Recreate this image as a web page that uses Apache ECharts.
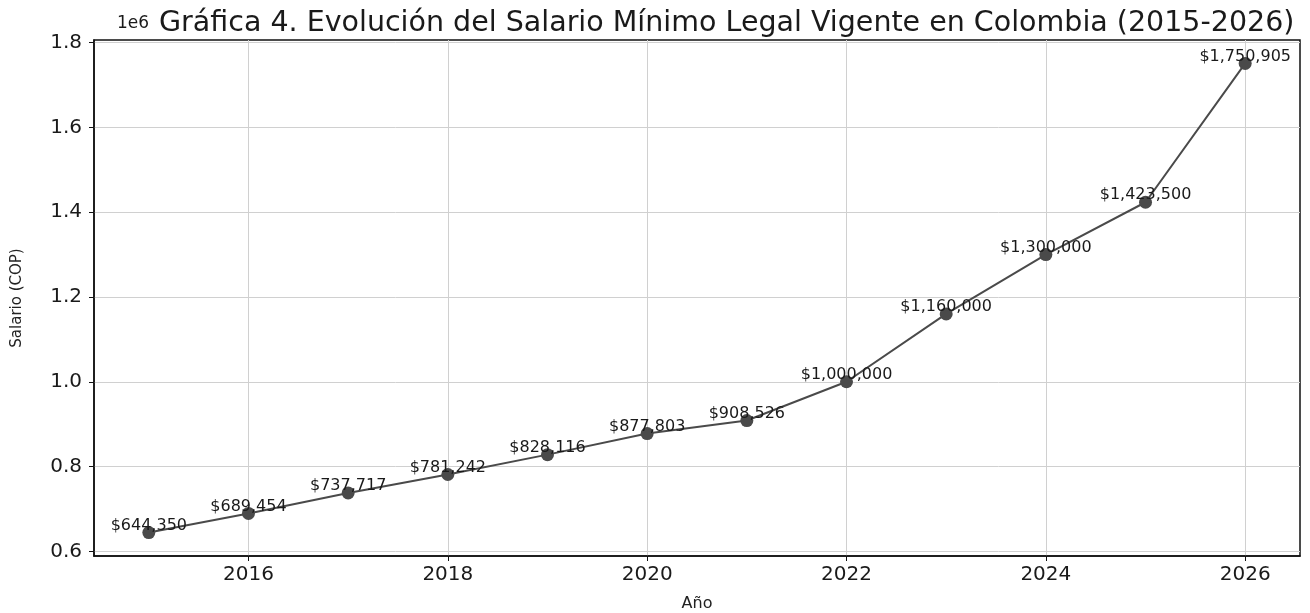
<!DOCTYPE html>
<html>
<head>
<meta charset="utf-8">
<title>Salario Mínimo Colombia</title>
<script src="https://cdn.jsdelivr.net/npm/echarts@6/dist/echarts.min.js"></script>
<style>
  html, body { margin: 0; padding: 0; background: #fff; }
  #chart { width: 1310px; height: 613px; }
</style>
</head>
<body>
<div id="chart"></div>
<script>
// datos
const years = [2015, 2016, 2017, 2018, 2019, 2020, 2021, 2022, 2023, 2024, 2025, 2026];
const salaries = [644350, 689454, 737717, 781242, 828116, 877803, 908526, 1000000, 1160000, 1300000, 1423500, 1750905];
const xTicks = [2016, 2018, 2020, 2022, 2024, 2026];
const yTicks = [600000, 800000, 1000000, 1200000, 1400000, 1600000, 1800000];

const FONT = '"DejaVu Sans", sans-serif';

// margen tipo matplotlib (5%)
const xPad = (years[years.length - 1] - years[0]) * 0.05;
const yMinData = Math.min(...salaries);
const yMaxData = Math.max(...salaries);
const yPad = (yMaxData - yMinData) * 0.05;

const chart = echarts.init(document.getElementById('chart'));

const fmtMoney = (v) => '$' + Number(v).toLocaleString('en-US');

const option = {
  backgroundColor: '#fff',
  animation: false,
  textStyle: { fontFamily: FONT },
  title: {
    text: 'Gráfica 4. Evolución del Salario Mínimo Legal Vigente en Colombia (2015-2026)',
    left: 154,
    top: 4,
    textStyle: { fontFamily: FONT, fontSize: 28.5, fontWeight: 'normal', color: '#1a1a1a' }
  },
  graphic: [
    {
      type: 'text',
      left: 117,
      top: 15,
      style: { text: '1e6', font: '17px ' + FONT, fill: '#1a1a1a' }
    }
  ],
  grid: {
    left: 94,
    right: 10,
    top: 40,
    bottom: 57,
    show: true,
    borderColor: '#111',
    borderWidth: 1.5,
    containLabel: false,
    outerBoundsMode: 'none'
  },
  xAxis: {
    type: 'value',
    min: years[0] - xPad,
    max: years[years.length - 1] + xPad,
    name: 'Año',
    nameLocation: 'middle',
    nameGap: 40,
    nameTextStyle: { fontFamily: FONT, fontSize: 16, color: '#222' },
    axisLine: { show: true, lineStyle: { color: '#111', width: 1.5 } },
    axisTick: { show: true, length: 5, lineStyle: { color: '#111' }, customValues: xTicks },
    axisLabel: {
      customValues: xTicks,
      fontFamily: FONT,
      fontSize: 20,
      color: '#1a1a1a',
      margin: 9,
      formatter: (v) => String(v)
    },
    splitLine: { show: true, lineStyle: { color: '#d0d0d0', width: 1 } }
  },
  yAxis: {
    type: 'value',
    min: yMinData - yPad,
    max: yMaxData + yPad,
    name: 'Salario (COP)',
    nameLocation: 'middle',
    nameGap: 69,
    nameRotate: 90,
    nameTextStyle: { fontFamily: FONT, fontSize: 15, color: '#222' },
    axisLine: { show: true, lineStyle: { color: '#111', width: 1.5 } },
    axisTick: { show: true, length: 5, lineStyle: { color: '#111' }, customValues: yTicks },
    axisLabel: {
      customValues: yTicks,
      fontFamily: FONT,
      fontSize: 20,
      color: '#1a1a1a',
      margin: 12,
      formatter: (v) => (v / 1e6).toFixed(1)
    },
    splitLine: { show: true, lineStyle: { color: '#d0d0d0', width: 1 } }
  },
  series: [
    {
      type: 'line',
      data: years.map((y, i) => [y, salaries[i]]),
      symbol: 'circle',
      symbolSize: 13,
      itemStyle: { color: '#4a4a4a' },
      lineStyle: { color: '#4a4a4a', width: 2 },
      label: {
        show: true,
        position: 'inside',
        offset: [0, -7],
        fontFamily: FONT,
        fontSize: 16,
        color: '#1a1a1a',
        formatter: (p) => fmtMoney(p.value[1])
      },
      z: 3
    }
  ]
};

chart.setOption(option);
window.addEventListener('resize', () => chart.resize());
</script>
</body>
</html>
